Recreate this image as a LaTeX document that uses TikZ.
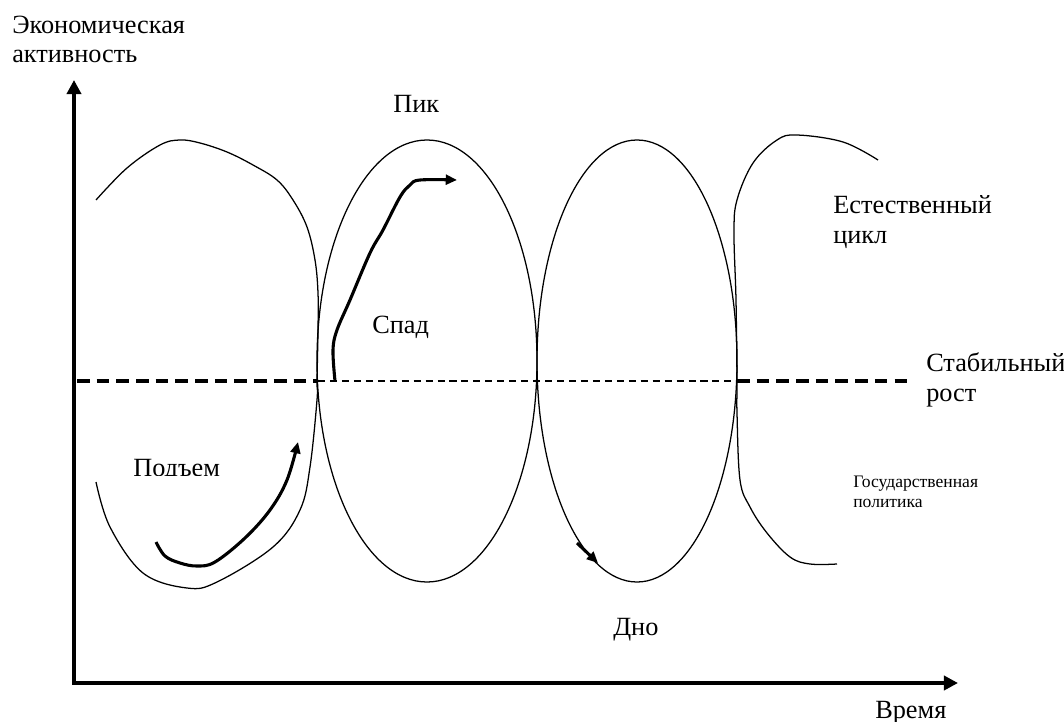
\documentclass[tikz,border=0pt]{standalone}
\usepackage{fontspec}
\setmainfont{Liberation Serif}
\usetikzlibrary{arrows.meta}

\begin{document}
\begin{tikzpicture}[
    x=0.025cm, y=-0.025cm,
    axisline/.style={line width=2.8pt, {Triangle[length=10pt,width=10pt]}-{Triangle[length=10pt,width=10pt]}},
    wave/.style={line width=0.9pt},
    flow/.style={line width=2.2pt, -{Triangle[length=8pt,width=7pt]}},
    trendthick/.style={line width=2.8pt, dash pattern=on 9pt off 5pt},
    trendthin/.style={line width=1.4pt, dash pattern=on 5pt off 3.5pt},
    lbl/.style={font=\fontsize{18.7}{21.3}\selectfont, inner sep=0pt, anchor=base west, align=left},
    smalllbl/.style={font=\fontsize{12.5}{14.2}\selectfont, inner sep=0pt, anchor=base west, align=left}
  ]
  \useasboundingbox (0,0) rectangle (1064,722);

  % axes
  \coordinate (o)    at (74,683);
  \coordinate (ytop) at (74,80);
  \coordinate (xend) at (958,683);
  \draw[axisline] (ytop) -- (o) -- (xend);

  % stable growth line
  \coordinate (g0) at (77,381);
  \coordinate (g1) at (318,381);
  \coordinate (g2) at (737,381);
  \coordinate (g3) at (908,381);
  \draw[trendthick] (g0) -- (g1);
  \draw[trendthin]  (g1) -- (g2);
  \draw[trendthick] (g2) -- (g3);

  % natural cycle
  \draw[wave] plot[smooth, tension=0.6] coordinates {
    (96,200) (127,168) (160,145) (180,140) (200,143) (227,152) (253,165)
    (277,180) (293,200) (307,227) (315,260) (318,293) (318,330) (317,381)
    (317,400) (310,467) (300,510) (273,547) (217,582) (187,588) (143,573)
    (110,527) (96,482)};
  \draw[wave] (427,361) ellipse [x radius=110, y radius=221];
  \draw[wave] (637,361) ellipse [x radius=100, y radius=221];
  \draw[wave] plot[smooth, tension=0.6] coordinates {
    (878,160) (843,142) (797,135) (777,140) (753,163) (737,200) (734,233)
    (736,300) (737,381) (737,413) (740,480) (750,507) (767,533) (790,557)
    (810,564) (837,564)};

  % phase arrows
  \draw[flow] plot[smooth, tension=0.6] coordinates {
    (156,542) (165,556) (180,563) (197,566) (215,562) (245,538) (270,510)
    (287,480) (298,442)};
  \draw[flow] plot[smooth, tension=0.6] coordinates {
    (335,381) (333,350) (337,330) (350,300) (370,253) (383,230) (400,197)
    (410,185) (420,180) (457,180)};
  \coordinate (d0) at (577,543);
  \coordinate (d1) at (598,563);
  \draw[flow] (d0) -- (d1);

  % labels
  \node[lbl] (activity) at (12,63) {Экономическая\\активность};
  \node[lbl] (peak)     at (393,113) {Пик};
  \node[lbl] (fall)     at (372,333) {Спад};
  \begin{scope}
    \clip (120,440) rectangle (240,475);
    \node[lbl] (rise) at (133,476) {Подъем};
  \end{scope}
  \node[lbl] (bottom)   at (613,635) {Дно};
  \node[lbl] (natural)  at (833,243) {Естественный\\цикл};
  \node[lbl] (stable)   at (926,401) {Стабильный\\рост};
  \node[smalllbl] (policy) at (853,507) {Государственная\\политика};
  \node[lbl] (time)     at (875,718) {Время};
\end{tikzpicture}
\end{document}
